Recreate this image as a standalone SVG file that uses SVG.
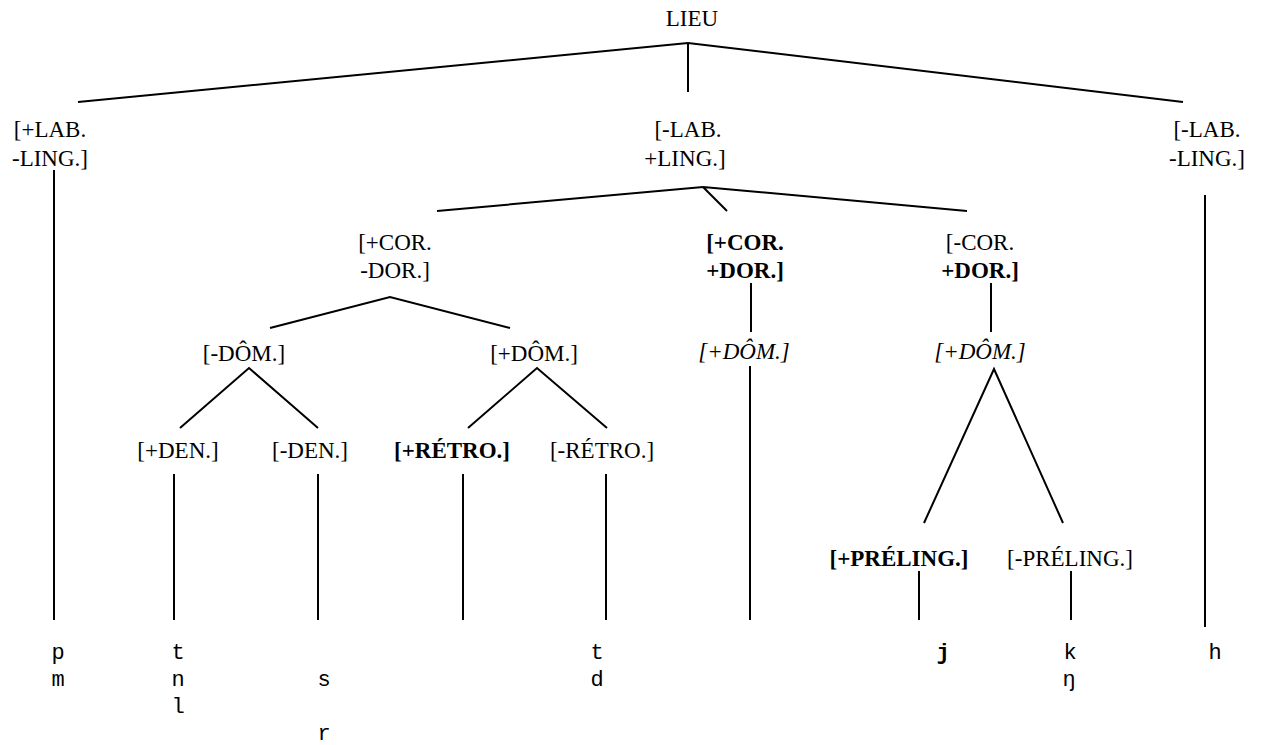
<svg xmlns="http://www.w3.org/2000/svg" width="1264" height="745" viewBox="0 0 1264 745">
<style>
.lbl{font-family:"Liberation Serif","Times New Roman",serif;font-size:23px;fill:#000;text-anchor:middle}
.b{font-weight:bold}
.i{font-style:italic}
.seg{font-family:"Courier New","Liberation Mono",monospace;font-size:22px;fill:#000;text-anchor:middle}
.edge{stroke:#000;stroke-width:2;fill:none}
</style>
<rect width="1264" height="745" fill="#fff"/>
<g id="connectors">
<path class="edge" d="M78,102 L688,43 L1183,102 M688,43 L688,92"/>
<path class="edge" d="M54,170 L54,620"/>
<path class="edge" d="M1205,195 L1205,627"/>
<path class="edge" d="M437,211 L703,187 L967,211 M703,187 L727,211"/>
<path class="edge" d="M270,328 L390,297 L510,328"/>
<path class="edge" d="M180,428 L249,368 L318,428"/>
<path class="edge" d="M468,428 L537,368 L607,428"/>
<path class="edge" d="M174,474 L174,620 M318,474 L318,620 M463,474 L463,620 M606,474 L606,620"/>
<path class="edge" d="M751,283 L751,332 M750,366 L750,620"/>
<path class="edge" d="M991,283 L991,332"/>
<path class="edge" d="M924,523 L994,369 L1063,523"/>
<path class="edge" d="M919,571 L919,620 M1071,571 L1071,620"/>
</g>
<g id="lieu"><text class="lbl" x="692" y="26">LIEU</text></g>
<g id="lab-plus"><text class="lbl" x="50" y="137">[+LAB.</text><text class="lbl" x="50" y="166">-LING.]</text></g>
<g id="ling-plus"><text class="lbl" x="688" y="137">[-LAB.</text><text class="lbl" x="685" y="166">+LING.]</text></g>
<g id="lab-ling-minus"><text class="lbl" x="1207" y="137">[-LAB.</text><text class="lbl" x="1207" y="166">-LING.]</text></g>
<g id="cor-plus-dor-minus"><text class="lbl" x="395" y="250">[+COR.</text><text class="lbl" x="395" y="278">-DOR.]</text></g>
<g id="cor-plus-dor-plus"><text class="lbl b" x="745" y="250">[+COR.</text><text class="lbl b" x="745" y="278">+DOR.]</text></g>
<g id="cor-minus-dor-plus"><text class="lbl" x="980" y="250">[-COR.</text><text class="lbl b" x="980" y="278">+DOR.]</text></g>
<g id="dom-minus"><text class="lbl" x="244" y="361">[-DÔM.]</text></g>
<g id="dom-plus"><text class="lbl" x="534" y="361">[+DÔM.]</text></g>
<g id="dom-plus-i1"><text class="lbl i" x="744" y="359">[+DÔM.]</text></g>
<g id="dom-plus-i2"><text class="lbl i" x="980" y="359">[+DÔM.]</text></g>
<g id="den-plus"><text class="lbl" x="178" y="458">[+DEN.]</text></g>
<g id="den-minus"><text class="lbl" x="310" y="458">[-DEN.]</text></g>
<g id="retro-plus"><text class="lbl b" x="452" y="458">[+RÉTRO.]</text></g>
<g id="retro-minus"><text class="lbl" x="602" y="458">[-RÉTRO.]</text></g>
<g id="preling-plus"><text class="lbl b" x="899" y="566">[+PRÉLING.]</text></g>
<g id="preling-minus"><text class="lbl" x="1070" y="566">[-PRÉLING.]</text></g>
<g id="seg-pm"><text class="seg" x="58" y="659">p</text><text class="seg" x="58" y="686">m</text></g>
<g id="seg-tnl"><text class="seg" x="178" y="659">t</text><text class="seg" x="178" y="686">n</text><text class="seg" x="178" y="713">l</text></g>
<g id="seg-sr"><text class="seg" x="324" y="686">s</text><text class="seg" x="324" y="740">r</text></g>
<g id="seg-td"><text class="seg" x="597" y="659">t</text><text class="seg" x="597" y="686">d</text></g>
<g id="seg-j"><text class="seg b" x="943" y="659">j</text></g>
<g id="seg-k"><text class="seg" x="1070" y="659">k</text><text class="seg" x="1069" y="686">ŋ</text></g>
<g id="seg-h"><text class="seg" x="1215" y="659">h</text></g>
</svg>
